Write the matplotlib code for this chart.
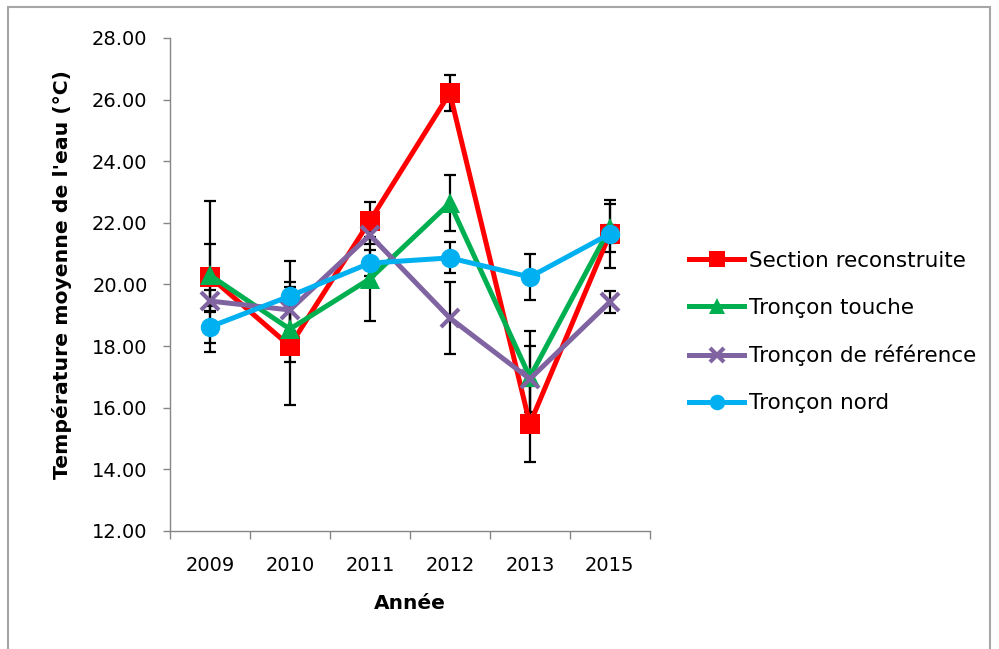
import numpy as np
import matplotlib.pyplot as plt
from matplotlib.patches import Rectangle

plt.rcParams['font.family'] = ['DejaVu Sans']

annees = ["2009", "2010", "2011", "2012", "2013", "2015"]

section_reconstruite = [20.25, 18.00, 22.06, 26.21, 15.47, 21.64]
section_reconstruite_err = [2.45, 1.90, 0.60, 0.57, 1.23, 1.10]

troncon_touche = [20.30, 18.55, 20.18, 22.64, 16.99, 21.83]
troncon_touche_err = [1.00, 1.06, 1.37, 0.91, 1.50, 0.78]

troncon_reference = [19.46, 19.17, 21.60, 18.91, 16.93, 19.43]
troncon_reference_err = [0.35, 0.92, 0.30, 1.17, 1.07, 0.35]

troncon_nord = [18.62, 19.62, 20.69, 20.86, 20.24, 21.64]
troncon_nord_err = [0.52, 1.14, 0.42, 0.50, 0.76, 0.30]

series = [
    ("Section reconstruite", section_reconstruite, section_reconstruite_err,
     "#FF0000", "s", 15, 0),
    ("Tronçon touche", troncon_touche, troncon_touche_err,
     "#00B050", "^", 15, 0),
    ("Tronçon de référence", troncon_reference, troncon_reference_err,
     "#8064A2", "x", 13, 3),
    ("Tronçon nord", troncon_nord, troncon_nord_err,
     "#00B0F0", "o", 14, 0),
]

fs = 14

fig = plt.figure(figsize=(9.99, 6.49), dpi=100)
ax = fig.add_axes([0.170, 0.182, 0.4805, 0.7596])

x = np.arange(len(annees))

# error bars first so the markers sit on top
for label, vals, err, color, marker, ms, mew in series:
    ax.errorbar(x, vals, yerr=err, fmt="none", ecolor="black",
                elinewidth=1.6, capsize=4.5, capthick=1.6, zorder=1)

for i, (label, vals, err, color, marker, ms, mew) in enumerate(series):
    kw = dict(markeredgewidth=mew) if marker == "x" else dict(markeredgewidth=0)
    ax.plot(x, vals, color=color, lw=3.6, marker=marker, markersize=ms,
            label=label, zorder=2 + i, **kw)

ax.set_ylim(12, 28)
ax.set_yticks(np.arange(12, 28.1, 2))
ax.set_yticklabels([f"{v:.2f}" for v in np.arange(12, 28.1, 2)])
ax.set_xlim(-0.5, len(annees) - 0.5)

# tick marks between the categories, labels centered under them
ax.set_xticks(np.arange(-0.5, len(annees)))
ax.set_xticklabels([])
ax.set_xticks(x, minor=True)
ax.set_xticklabels(annees, minor=True)
ax.tick_params(axis="x", which="major", length=6, width=1, color="#868686")
ax.tick_params(axis="x", which="minor", length=0, pad=18, labelsize=fs)
ax.tick_params(axis="y", length=5, width=1, color="#868686", pad=11,
               labelsize=fs)

for side in ["top", "right"]:
    ax.spines[side].set_visible(False)
for side in ["left", "bottom"]:
    ax.spines[side].set_color("#868686")
    ax.spines[side].set_linewidth(1)

ax.set_ylabel("Température moyenne de l'eau (°C)", fontsize=14.7,
              fontweight="bold", labelpad=14.5)
ax.yaxis.label.set_y(0.519)
ax.set_xlabel("Année", fontsize=14.5, fontweight="bold", labelpad=14)

ax.legend(loc="upper left", bbox_to_anchor=(1.064, 0.586), frameon=False,
          fontsize=15.5, handlelength=2.56, handletextpad=0.23,
          labelspacing=1.26, borderaxespad=0, markerscale=0.8)

fig.patches.append(Rectangle((0.008, -0.01), 0.983, 0.999, fill=False,
                             edgecolor="#A6A6A6", lw=1.5,
                             transform=fig.transFigure))

fig.savefig("out.png", dpi=100)
